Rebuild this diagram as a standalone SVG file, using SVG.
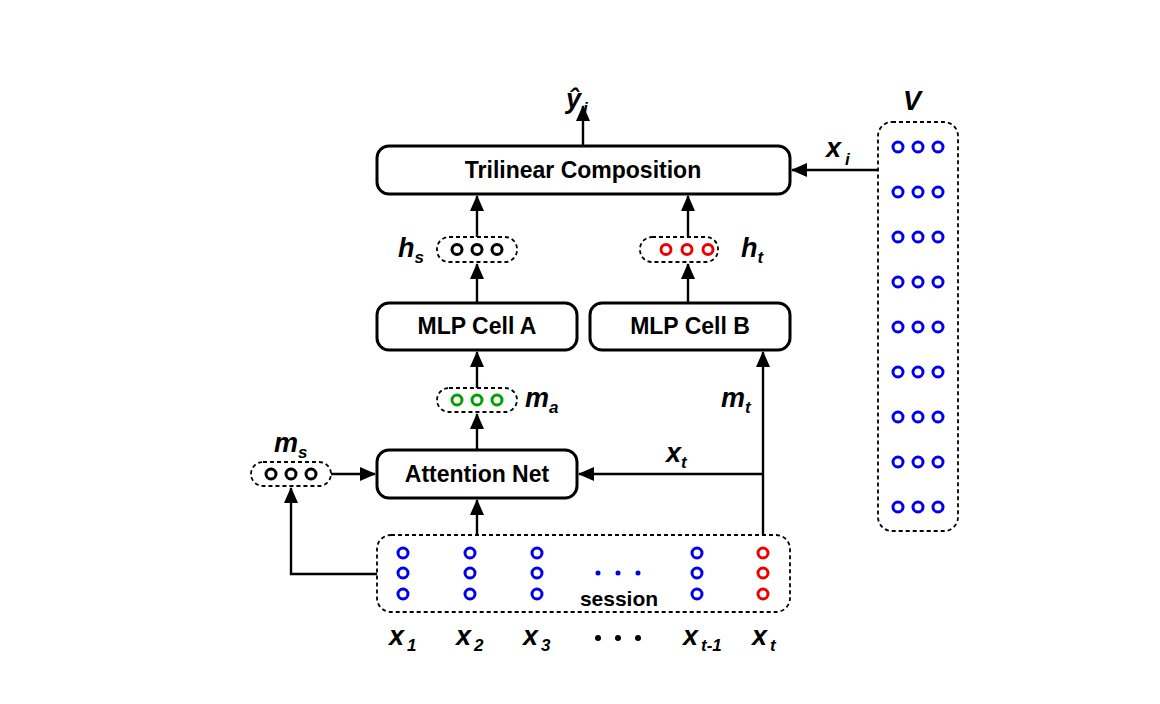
<svg xmlns="http://www.w3.org/2000/svg" width="1160" height="704" viewBox="0 0 1160 704">
<defs>
<marker id="ah" markerWidth="16" markerHeight="16" refX="15" refY="7" orient="auto" markerUnits="userSpaceOnUse" viewBox="0 0 16 14"><path d="M0,0 L16,7 L0,14 z" fill="#000"/></marker>
</defs>
<style>
.box{fill:#fff;stroke:#000;stroke-width:3}
.pill{fill:#fff;stroke:#000;stroke-width:1.8;stroke-dasharray:4 3}
.bt{font-family:"Liberation Sans",Arial,sans-serif;font-weight:bold;font-size:23px;text-anchor:middle}
.lb{font-family:"Liberation Sans",Arial,sans-serif;font-weight:bold;font-style:italic;font-size:27px}
.sub{font-size:17px}
.c{fill:none;stroke-width:3}
.b{stroke:#0000ee}.r{stroke:#ee0000}.g{stroke:#00a000}.k{stroke:#000}
.ln{fill:none;stroke:#000;stroke-width:2.4}
</style>
<rect width="1160" height="704" fill="#fff"/>
<g id="connectors">
<line class="ln" x1="583" y1="146" x2="583" y2="106" marker-end="url(#ah)"/>
<line class="ln" x1="878" y1="170" x2="792" y2="170" marker-end="url(#ah)"/>
<line class="ln" x1="477" y1="237" x2="477" y2="196" marker-end="url(#ah)"/>
<line class="ln" x1="688" y1="237" x2="688" y2="196" marker-end="url(#ah)"/>
<line class="ln" x1="477" y1="303" x2="477" y2="264" marker-end="url(#ah)"/>
<line class="ln" x1="688" y1="303" x2="688" y2="264" marker-end="url(#ah)"/>
<line class="ln" x1="477" y1="388" x2="477" y2="352" marker-end="url(#ah)"/>
<line class="ln" x1="477" y1="450" x2="477" y2="414" marker-end="url(#ah)"/>
<line class="ln" x1="477" y1="535" x2="477" y2="500" marker-end="url(#ah)"/>
<line class="ln" x1="763" y1="546" x2="763" y2="352" marker-end="url(#ah)"/>
<line class="ln" x1="763" y1="474" x2="579" y2="474" marker-end="url(#ah)"/>
<line class="ln" x1="331" y1="474" x2="375" y2="474" marker-end="url(#ah)"/>
<polyline class="ln" points="377,574 291,574 291,488" marker-end="url(#ah)"/>
</g>
<g id="trilinear"><rect class="box" x="377" y="146" width="413" height="48" rx="12"/><text class="bt" x="583" y="178">Trilinear Composition</text></g>
<g id="yhat"><text class="lb" x="566" y="108">ŷ<tspan class="sub" dx="2" dy="6">i</tspan></text></g>
<g id="V">
<rect class="pill" x="878" y="122" width="80" height="409" rx="14"/>
<text class="lb" x="903" y="110">V</text>
<g class="c b">
<circle cx="898" cy="147" r="5"/><circle cx="918" cy="147" r="5"/><circle cx="938" cy="147" r="5"/>
<circle cx="898" cy="192" r="5"/><circle cx="918" cy="192" r="5"/><circle cx="938" cy="192" r="5"/>
<circle cx="898" cy="237" r="5"/><circle cx="918" cy="237" r="5"/><circle cx="938" cy="237" r="5"/>
<circle cx="898" cy="282" r="5"/><circle cx="918" cy="282" r="5"/><circle cx="938" cy="282" r="5"/>
<circle cx="898" cy="327" r="5"/><circle cx="918" cy="327" r="5"/><circle cx="938" cy="327" r="5"/>
<circle cx="898" cy="372" r="5"/><circle cx="918" cy="372" r="5"/><circle cx="938" cy="372" r="5"/>
<circle cx="898" cy="417" r="5"/><circle cx="918" cy="417" r="5"/><circle cx="938" cy="417" r="5"/>
<circle cx="898" cy="462" r="5"/><circle cx="918" cy="462" r="5"/><circle cx="938" cy="462" r="5"/>
<circle cx="898" cy="507" r="5"/><circle cx="918" cy="507" r="5"/><circle cx="938" cy="507" r="5"/>
</g>
</g>
<g id="xi"><text class="lb" x="826" y="157">x<tspan class="sub" dx="4" dy="8">i</tspan></text></g>
<g id="hs"><rect class="pill" x="437" y="237" width="80" height="25" rx="12"/><g class="c k"><circle cx="457" cy="249.5" r="5"/><circle cx="477" cy="249.5" r="5"/><circle cx="497" cy="249.5" r="5"/></g><text class="lb" x="398" y="257">h<tspan class="sub" dy="6">s</tspan></text></g>
<g id="ht"><rect class="pill" x="640" y="237" width="78" height="25" rx="12"/><g class="c r"><circle cx="666" cy="249.5" r="5"/><circle cx="687" cy="249.5" r="5"/><circle cx="708" cy="249.5" r="5"/></g><text class="lb" x="741" y="257">h<tspan class="sub" dy="6">t</tspan></text></g>
<g id="mlpA"><rect class="box" x="377" y="303" width="200" height="47" rx="12"/><text class="bt" x="477" y="334">MLP Cell A</text></g>
<g id="mlpB"><rect class="box" x="590" y="303" width="200" height="47" rx="12"/><text class="bt" x="690" y="334">MLP Cell B</text></g>
<g id="ma"><rect class="pill" x="437" y="388" width="80" height="24" rx="12"/><g class="c g"><circle cx="457" cy="400" r="5"/><circle cx="477" cy="400" r="5"/><circle cx="497" cy="400" r="5"/></g><text class="lb" x="525" y="407">m<tspan class="sub" dy="6">a</tspan></text></g>
<g id="mt"><text class="lb" x="721" y="407">m<tspan class="sub" dy="6">t</tspan></text></g>
<g id="xt"><text class="lb" x="666" y="462">x<tspan class="sub" dy="6">t</tspan></text></g>
<g id="attention"><rect class="box" x="377" y="450" width="200" height="48" rx="12"/><text class="bt" x="477" y="482">Attention Net</text></g>
<g id="ms"><rect class="pill" x="251" y="462" width="80" height="24" rx="12"/><g class="c k"><circle cx="271" cy="474" r="5"/><circle cx="291" cy="474" r="5"/><circle cx="311" cy="474" r="5"/></g><text class="lb" x="274" y="452">m<tspan class="sub" dy="6">s</tspan></text></g>
<g id="session">
<rect class="pill" x="377" y="535" width="413" height="77" rx="14"/>
<g class="c b">
<circle cx="403" cy="553" r="5"/><circle cx="403" cy="573" r="5"/><circle cx="403" cy="594" r="5"/>
<circle cx="470" cy="553" r="5"/><circle cx="470" cy="573" r="5"/><circle cx="470" cy="594" r="5"/>
<circle cx="537" cy="553" r="5"/><circle cx="537" cy="573" r="5"/><circle cx="537" cy="594" r="5"/>
<circle cx="697" cy="553" r="5"/><circle cx="697" cy="573" r="5"/><circle cx="697" cy="594" r="5"/>
</g>
<g class="c r"><circle cx="763" cy="553" r="5"/><circle cx="763" cy="573" r="5"/><circle cx="763" cy="594" r="5"/></g>
<g fill="#0000ee"><circle cx="598" cy="573" r="2.5"/><circle cx="618" cy="573" r="2.5"/><circle cx="638" cy="573" r="2.5"/></g>
<text class="bt" x="619" y="606" style="font-size:21px">session</text>
</g>
<g id="labels">
<text class="lb" x="389" y="645">x<tspan class="sub" dx="3" dy="6">1</tspan></text>
<text class="lb" x="456" y="645">x<tspan class="sub" dx="3" dy="6">2</tspan></text>
<text class="lb" x="523" y="645">x<tspan class="sub" dx="3" dy="6">3</tspan></text>
<g fill="#000"><circle cx="598" cy="638" r="3"/><circle cx="618" cy="638" r="3"/><circle cx="638" cy="638" r="3"/></g>
<text class="lb" x="683" y="645">x<tspan class="sub" dx="3" dy="6">t-1</tspan></text>
<text class="lb" x="752" y="645">x<tspan class="sub" dx="3" dy="6">t</tspan></text>
</g>
</svg>
